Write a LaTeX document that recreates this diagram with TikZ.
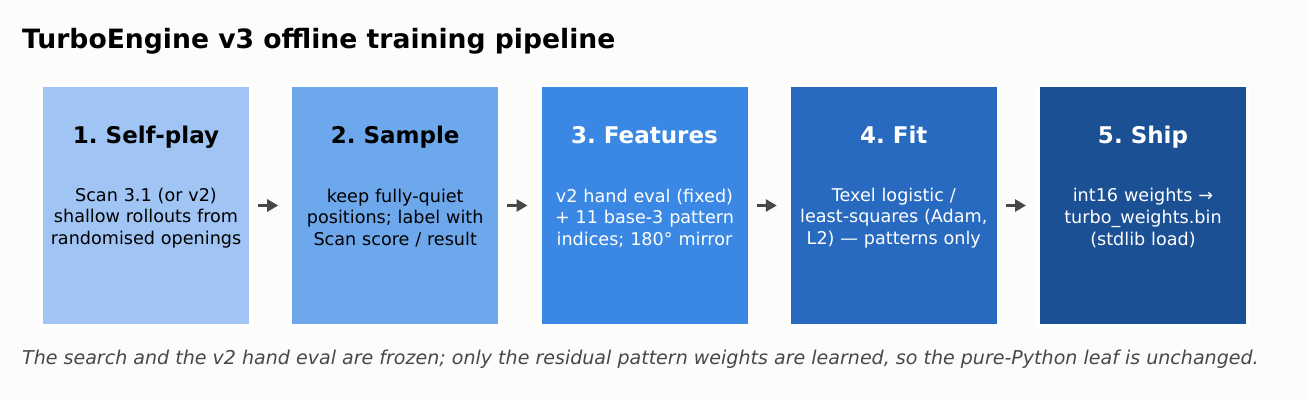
\documentclass[tikz,border=0pt]{standalone}
\usepackage{fontspec}
\setmainfont{DejaVu Sans}
\usetikzlibrary{arrows.meta}
\definecolor{bg}{RGB}{252,252,250}
\definecolor{cA}{RGB}{160,196,244}
\definecolor{cB}{RGB}{110,168,236}
\definecolor{cC}{RGB}{58,136,228}
\definecolor{cD}{RGB}{40,106,192}
\definecolor{cE}{RGB}{27,80,148}
\definecolor{arr}{RGB}{72,72,72}
\definecolor{foot}{RGB}{72,72,72}
\tikzset{
  stage/.style={draw=white, line width=3.5pt, minimum width=209.5pt, minimum height=240.5pt, inner sep=0pt},
  stitle/.style={font=\fontsize{23}{26}\selectfont\bfseries, inner sep=0pt, anchor=base},
  sbody/.style={font=\fontsize{17.6}{21.6}\selectfont, align=center, inner sep=0pt, text width=220pt, anchor=center},
  flow/.style={draw=arr, line width=3.2pt, -{Triangle[length=11pt,width=12pt]}, shorten <=5.5pt, shorten >=10.5pt}
}
\begin{document}
\frenchspacing
\begin{tikzpicture}[x=1pt,y=-1pt]
\fill[bg] (0,0) rectangle (1308,399);
\useasboundingbox (0,0) rectangle (1308,399);
\node[anchor=base west, font=\fontsize{26.6}{30}\selectfont\bfseries, inner sep=0pt] (title) at (22,48) {TurboEngine v3 offline training pipeline};

\node[stage, fill=cA] (b1) at (146,205.5) {};
\node[stage, fill=cB] (b2) at (395.2,205.5) {};
\node[stage, fill=cC] (b3) at (644.5,205.5) {};
\node[stage, fill=cD] (b4) at (893.8,205.5) {};
\node[stage, fill=cE] (b5) at (1143,205.5) {};

\node[stitle, text=black] (t1) at (146,143) {1. Self-play};
\node[stitle, text=black] (t2) at (395.2,143) {2. Sample};
\node[stitle, text=white] (t3) at (644.5,143) {3. Features};
\node[stitle, text=white] (t4) at (893.8,143) {4. Fit};
\node[stitle, text=white] (t5) at (1143,143) {5. Ship};

\node[sbody, text=black] (d1) at (146,218) {Scan 3.1 (or v2)\\shallow rollouts from\\randomised openings};
\node[sbody, text=black] (d2) at (395.2,218) {keep fully-quiet\\positions; label with\\Scan score / result};
\node[sbody, text=white] (d3) at (644.5,218) {v2 hand eval (fixed)\\+ 11 base-3 pattern\\indices; 180° mirror};
\node[sbody, text=white] (d4) at (893.8,218) {Texel logistic /\\least-squares (Adam,\\L2) — patterns only};
\node[sbody, text=white] (d5) at (1143,218) {int16 weights →\\turbo\_weights.bin\\(stdlib load)};

\draw[flow] (b1.east) -- (b2.west);
\draw[flow] (b2.east) -- (b3.west);
\draw[flow] (b3.east) -- (b4.west);
\draw[flow] (b4.east) -- (b5.west);

\node[anchor=base west, font=\fontsize{19.05}{22}\selectfont\itshape, text=foot, inner sep=0pt] (fn) at (22,364) {The search and the v2 hand eval are frozen; only the residual pattern weights are learned, so the pure-Python leaf is unchanged.};
\end{tikzpicture}
\end{document}
